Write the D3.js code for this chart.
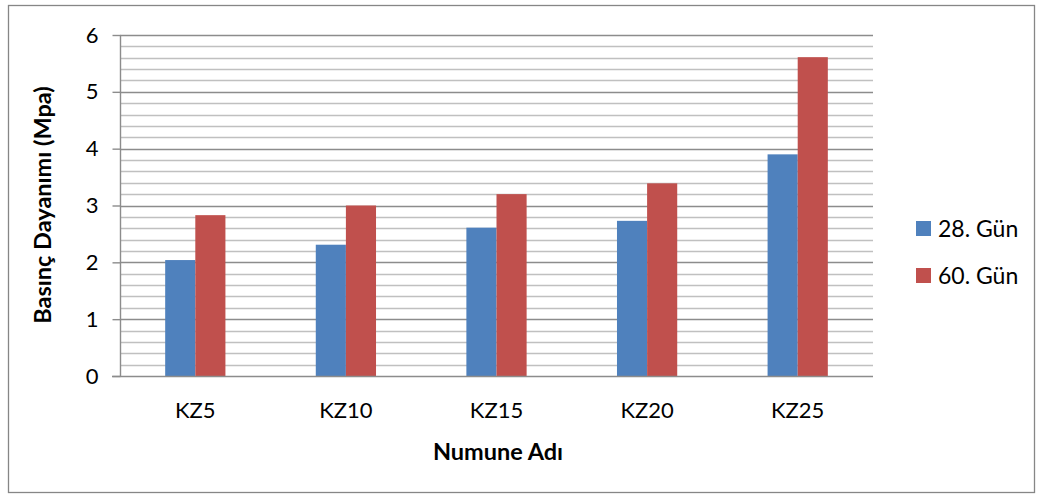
<!DOCTYPE html>
<html>
<head>
<meta charset="utf-8">
<script src="https://cdn.jsdelivr.net/npm/d3@7"></script>
<style>
  html, body { margin: 0; padding: 0; background: #fff; }
  svg { display: block; font-family: Lato, "Open Sans", sans-serif; }
</style>
</head>
<body>
<svg id="chart" width="1043" height="498"></svg>
<script>
// Compressive strength (MPa) per sample at 28 and 60 days
const categories = ["KZ5", "KZ10", "KZ15", "KZ20", "KZ25"];
const seriesNames = ["28. Gün", "60. Gün"];
const day28 = [2.04, 2.31, 2.61, 2.73, 3.90];
const day60 = [2.83, 3.00, 3.20, 3.39, 5.61];
const yTicks = [0, 1, 2, 3, 4, 5, 6];
const yMinorTicks = d3.range(0, 6.0001, 0.2);
const colors = ["#4F81BD", "#C0504D"];

const svg = d3.select("#chart");

// chart frame
svg.append("rect")
  .attr("x", 8.5).attr("y", 5.5)
  .attr("width", 1026).attr("height", 487)
  .attr("fill", "#fff").attr("stroke", "#868686").attr("stroke-width", 1.3);

const plot = { left: 120, right: 873, top: 35, bottom: 376 };

const x = d3.scaleBand().domain(categories)
  .range([plot.left, plot.right]).paddingInner(0).paddingOuter(0);
const xs = d3.scaleBand().domain(seriesNames)
  .range([0, x.bandwidth()]).paddingInner(0).paddingOuter(1.5);
const y = d3.scaleLinear().domain([0, 6]).range([plot.bottom, plot.top]);

// minor gridlines
svg.append("g").selectAll("line")
  .data(yMinorTicks.filter(v => Math.abs(v - Math.round(v)) > 1e-6))
  .join("line")
  .attr("x1", plot.left).attr("x2", plot.right)
  .attr("y1", d => Math.round(y(d)) + 0.5).attr("y2", d => Math.round(y(d)) + 0.5)
  .attr("stroke", "#C0C0C0").attr("stroke-width", 1.4);

// major gridlines
svg.append("g").selectAll("line")
  .data(yTicks.filter(v => v > 0))
  .join("line")
  .attr("x1", plot.left).attr("x2", plot.right)
  .attr("y1", d => Math.round(y(d)) + 0.5).attr("y2", d => Math.round(y(d)) + 0.5)
  .attr("stroke", "#8C8C8C").attr("stroke-width", 1.4);

// bars
const series = [day28, day60];
series.forEach((vals, si) => {
  svg.append("g").selectAll("rect")
    .data(vals)
    .join("rect")
    .attr("x", (d, i) => x(categories[i]) + xs(seriesNames[si]))
    .attr("width", xs.bandwidth())
    .attr("y", d => y(d))
    .attr("height", d => y(0) - y(d))
    .attr("fill", colors[si]);
});

// y axis
const yAxis = d3.axisLeft(y).tickValues(yTicks).tickSize(8).tickPadding(14)
  .tickFormat(d3.format("d"));
const gy = svg.append("g").attr("transform", `translate(${plot.left + 0.5},0)`).call(yAxis);
gy.select(".domain").attr("stroke", "#8C8C8C").attr("stroke-width", 1.4).attr("d", `M0,${plot.top}V${plot.bottom}`);
gy.selectAll(".tick line").attr("stroke", "#8C8C8C").attr("stroke-width", 1.4);
gy.selectAll(".tick text").attr("font-size", 22).attr("fill", "#000")
  .attr("font-family", "Lato, sans-serif");

// x axis
const xAxis = d3.axisBottom(x).tickSize(0).tickPadding(26);
const gx = svg.append("g").attr("transform", `translate(0,${plot.bottom})`).call(xAxis);
gx.select(".domain").attr("stroke", "#8C8C8C").attr("stroke-width", 1.4)
  .attr("d", `M${plot.left - 8},0.5H${plot.right}`);
gx.selectAll(".tick text").attr("font-size", 22).attr("fill", "#000")
  .attr("font-family", "Lato, sans-serif");

// axis titles
svg.append("text")
  .attr("x", 498).attr("y", 460)
  .attr("text-anchor", "middle").attr("font-size", 23.5).attr("font-weight", "bold")
  .text("Numune Adı");

svg.append("text")
  .attr("transform", `translate(51,205) rotate(-90)`)
  .attr("text-anchor", "middle").attr("font-size", 23.5).attr("font-weight", "bold")
  .text("Basınç Dayanımı (Mpa)");

// legend
const legend = svg.append("g").attr("transform", "translate(916,221)");
seriesNames.forEach((name, i) => {
  const g = legend.append("g").attr("transform", `translate(0,${i * 47})`);
  g.append("rect").attr("width", 15).attr("height", 15).attr("fill", colors[i]);
  g.append("text").attr("x", 22).attr("y", 16).attr("font-size", 23).text(name);
});
</script>
</body>
</html>
